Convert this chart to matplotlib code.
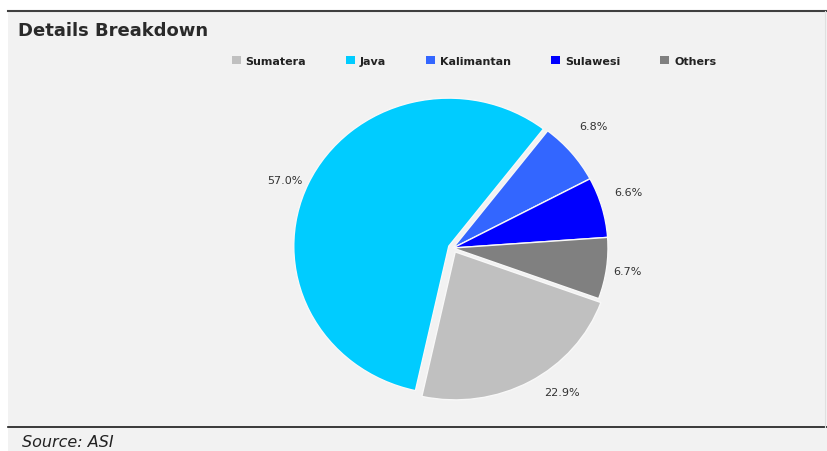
import matplotlib
matplotlib.use("Agg")
import numpy as np
import matplotlib.pyplot as plt
from matplotlib.patches import Rectangle, Patch
from matplotlib.lines import Line2D

regions = ["Sumatera", "Java", "Kalimantan", "Sulawesi", "Others"]
shares = [22.9, 57.0, 6.8, 6.6, 6.7]
colors = ["#c0c0c0", "#00ccff", "#3366ff", "#0000ff", "#808080"]
explode = [0.03, 0.03, 0.0, 0.0, 0.0]
# label placement styling (Excel "best fit"-like nudges)
label_dist = [1.2, 1.18, 1.225, 1.19, 1.135]
label_turn = [7.0, 2.0, 2.0, 2.5, 0.0]

W, H = 827, 452
fig = plt.figure(figsize=(W / 100, H / 100), dpi=100)
fig.patch.set_facecolor("white")

# panel background
fig.add_artist(Rectangle((8 / W, 0), (W - 8) / W, 1 - 12 / H, transform=fig.transFigure,
                         facecolor="#f2f2f2", edgecolor="none", zorder=0))
fig.add_artist(Line2D([8 / W, 1], [1 - 12 / H, 1 - 12 / H], transform=fig.transFigure,
                      color="#404040", lw=1.5, zorder=1))
fig.add_artist(Line2D([8 / W, 1], [1 - 428 / H, 1 - 428 / H], transform=fig.transFigure,
                      color="#1a1a1a", lw=1.2, zorder=1))
fig.add_artist(Line2D([825 / W, 825 / W], [1 - 428 / H, 1 - 12 / H], transform=fig.transFigure,
                      color="#e0e0e0", lw=0.8, zorder=1))

fig.text(18 / W, 1 - 31 / H, "Details Breakdown", fontsize=13, fontweight="bold",
         color="#2a2a2a", ha="left", va="center")
fig.text(22 / W, 1 - 443 / H, "Source: ASI", fontsize=11.5, fontstyle="italic",
         color="#222222", ha="left", va="center")

# pie axes: center (453,249) px, radii 155 x 148 px (slightly flattened, as in the source)
RX, RY = 155.0, 148.0
half = 200.0
cx, cy = 453, 249
ax = fig.add_axes([(cx - half) / W, (H - cy - half) / H, 2 * half / W, 2 * half / H])

wedges, texts, autotexts = ax.pie(
    shares, colors=colors, explode=explode, startangle=-20, counterclock=False,
    autopct="%.1f%%", pctdistance=1.18, radius=1.0,
    wedgeprops=dict(edgecolor="#f8f8f8", linewidth=1.0),
    textprops=dict(fontsize=8, color="#333333"))
for w, t, d, turn in zip(wedges, autotexts, label_dist, label_turn):
    mid = np.deg2rad((w.theta1 + w.theta2) / 2 + turn)
    t.set_position((d * np.cos(mid), d * np.sin(mid)))
    t.set_ha("center")
    t.set_va("center")
ax.set_aspect("auto")
ax.set_xlim(-half / RX, half / RX)
ax.set_ylim(-half / RY, half / RY)
ax.axis("off")

handles = [Patch(facecolor=c, edgecolor="none") for c in colors]
fig.legend(handles, regions, loc="center", bbox_to_anchor=(474 / W, 1 - 62 / H),
           ncol=5, frameon=False, prop=dict(size=8, weight="bold"),
           handlelength=0.8, handleheight=0.8, handletextpad=0.45,
           columnspacing=3.6, labelcolor="#222222")

fig.savefig("out.png", dpi=100, facecolor=fig.get_facecolor())
